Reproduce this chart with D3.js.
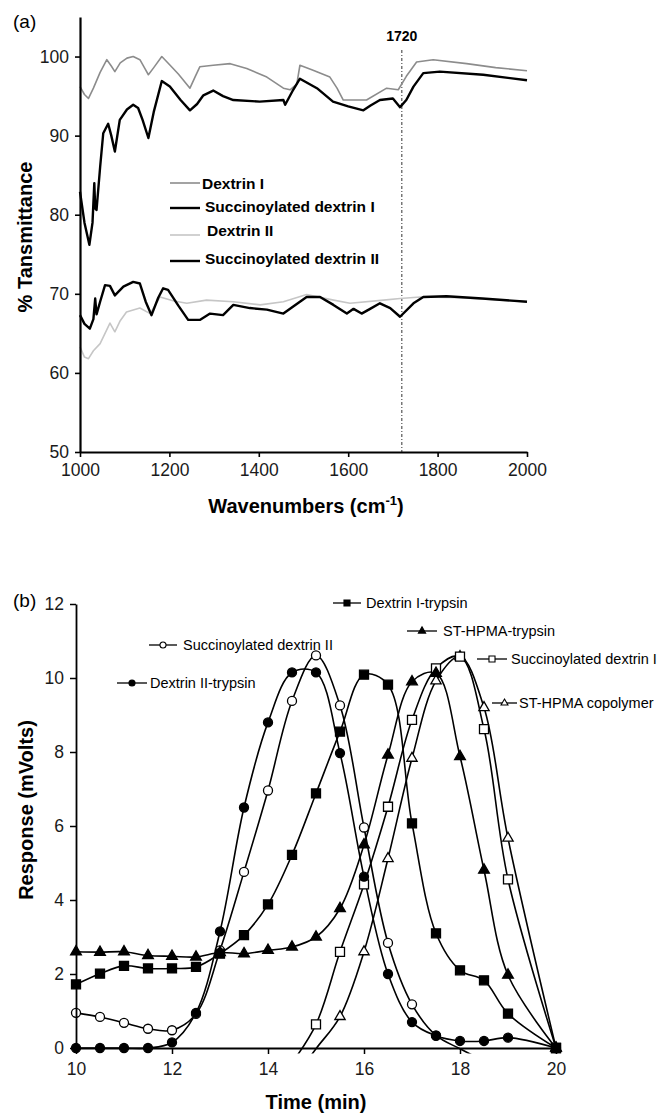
<!DOCTYPE html>
<html>
<head>
<meta charset="utf-8">
<script src="https://cdn.jsdelivr.net/npm/d3@7"></script>
<style>
  body { margin: 0; background: #fff; }
  svg { display: block; font-family: "Liberation Sans", Arial, Helvetica, sans-serif; }
</style>
</head>
<body>
<div id="chart"></div>
<script>
// ---- (a) FTIR spectra, [wavenumber, % transmittance]
const dextrinI = [[1000,96.2],[1010,95.2],[1019,94.7],[1030,96],[1045,98],[1060,99.6],[1070,98.8],[1078,98.1],[1090,99.2],[1105,99.8],[1119,100],[1134,99.6],[1145,98.5],[1153,97.7],[1165,98.6],[1183,100],[1200,99],[1220,97.8],[1246,96],[1258,97.5],[1268,98.7],[1298,98.9],[1336,99.1],[1373,98.5],[1418,97.4],[1455,96],[1470,95.8],[1485,96.5],[1492,98.9],[1520,98.3],[1559,97.4],[1575,96],[1589,94.5],[1641,94.5],[1686,96],[1712,95.8],[1730,97.5],[1753,99.3],[1790,99.6],[1865,99.1],[1930,98.6],[2000,98.2]]
const succDextrinIa = [[1000,82.9],[1010,79],[1021,76.2],[1028,79],[1032,84],[1034,80.8],[1037,80.6],[1045,86],[1052,90.3],[1063,91.5],[1070,90],[1078,88],[1089,92],[1105,93.3],[1119,93.9],[1130,93.5],[1140,92],[1153,89.7],[1165,93],[1183,96.9],[1201,96.2],[1225,94.5],[1246,93.2],[1262,94],[1276,95.1],[1298,95.7],[1320,95],[1343,94.5],[1402,94.3],[1455,94.5],[1459,93.9],[1477,95.8],[1492,97.2],[1530,96],[1566,94.3],[1600,93.7],[1634,93.2],[1650,93.8],[1671,94.5],[1700,94.7],[1716,93.6],[1730,94.5],[1746,96.2],[1768,97.9],[1805,98.1],[1902,97.7],[2000,97]]
const dextrinII = [[1000,63.3],[1010,62],[1019,61.8],[1030,62.8],[1045,63.7],[1067,66.3],[1078,65.2],[1090,66.6],[1104,67.7],[1134,68.2],[1157,67.5],[1179,69.6],[1210,69.1],[1239,68.8],[1283,69.2],[1343,69],[1403,68.6],[1455,69],[1507,69.9],[1559,69.3],[1604,68.8],[1679,69.2],[1716,69.4],[1761,69.6],[1850,69.5],[2000,69]]
const succDextrinIIa = [[1000,67.3],[1010,66.2],[1022,65.6],[1030,66.8],[1034,69.4],[1037,67.4],[1045,69],[1056,71.1],[1067,71],[1078,69.8],[1097,70.9],[1119,71.5],[1134,71.3],[1147,69],[1160,67.3],[1175,69.5],[1186,70.7],[1197,70.5],[1220,68.5],[1242,66.7],[1268,66.7],[1291,67.5],[1320,67.3],[1343,68.6],[1380,68.2],[1418,68],[1455,67.5],[1477,68.4],[1507,69.6],[1537,69.6],[1567,68.6],[1597,67.5],[1612,68.1],[1630,67.5],[1649,68.1],[1671,68.8],[1694,68.2],[1716,67.1],[1746,68.8],[1768,69.6],[1820,69.7],[1900,69.4],[2000,69]]
const spectraNames = ['Dextrin I', 'Succinoylated dextrin I', 'Dextrin II', 'Succinoylated dextrin II']
const wavenumberTicks = [1000, 1200, 1400, 1600, 1800, 2000]
const transmittanceTicks = [50, 60, 70, 80, 90, 100]
const markerLine = 1720

// ---- (b) GPC traces, response (mV) at each elution time (min)
const times = [10,10.5,11,11.5,12,12.5,13,13.5,14,14.5,15,15.5,16,16.5,17,17.5,18,18.5,19,20]
const dextrinIITrypsin = [0,0,0,0,0.15,0.95,3.15,6.5,8.8,10.15,10.15,7.97,4.63,2.0,0.7,0.33,0.19,0.19,0.28,0]
const succDextrinII = [0.95,0.84,0.68,0.52,0.48,0.92,2.64,4.76,6.96,9.38,10.61,9.26,5.96,2.84,1.18,0.34,-0.02,-0.35,null,null]
const dextrinITrypsin = [1.72,2.01,2.22,2.15,2.15,2.19,2.55,3.05,3.88,5.22,6.88,8.55,10.09,9.82,6.07,3.1,2.1,1.83,0.93,0]
const stHpmaTrypsin = [2.6,2.59,2.6,2.5,2.48,2.46,2.58,2.55,2.64,2.73,3.0,3.77,5.49,7.92,9.9,10.13,7.88,4.81,1.97,0]
const succDextrinI = [null,null,null,null,null,null,null,null,null,-0.4,0.64,2.6,4.42,6.52,8.87,10.26,10.58,8.62,4.56,0]
const stHpmaCopolymer = [null,null,null,null,null,null,null,null,null,-0.9,-0.02,0.85,2.6,5.12,7.83,9.92,10.58,9.2,5.67,0]
const gpcNames = ['Dextrin I-trypsin', 'ST-HPMA-trypsin', 'Succinoylated dextrin II', 'Succinoylated dextrin I', 'Dextrin II-trypsin', 'ST-HPMA copolymer']
const timeTicks = [10, 12, 14, 16, 18, 20]
const responseTicks = [0, 2, 4, 6, 8, 10, 12]

const svg = d3.select('#chart')
    .append('svg')
    .attr('width', 659)
    .attr('height', 1114)

// ================= panel (a) =================
const xA = d3.scaleLinear().domain([1000, 2000]).range([80, 527])
const yA = d3.scaleLinear().domain([50, 105]).range([452, 17])

const gA = svg.append('g')

gA.append('text').attr('x', 13).attr('y', 28).attr('font-size', 19).text('(a)')

// 1720 marker
gA.append('line')
    .attr('x1', xA(markerLine)).attr('x2', xA(markerLine))
    .attr('y1', 50).attr('y2', yA(50))
    .attr('stroke', '#333').attr('stroke-width', 1)
    .attr('stroke-dasharray', '3,2,1,2')
gA.append('text')
    .attr('x', xA(markerLine)).attr('y', 41)
    .attr('text-anchor', 'middle').attr('font-size', 14).attr('font-weight', 'bold')
    .text(markerLine)

const specStyle = [
    { data: dextrinI, color: '#8c8c8c', width: 1.6 },
    { data: succDextrinIa, color: '#000', width: 2.4 },
    { data: dextrinII, color: '#c6c6c6', width: 1.6 },
    { data: succDextrinIIa, color: '#000', width: 2.4 }
]

const specLine = d3.line()
    .x(d => xA(d[0]))
    .y(d => yA(d[1]))

// draw light lines first so black ones sit on top
;[2, 0, 3, 1].forEach(i => {
    gA.append('path')
        .datum(specStyle[i].data)
        .attr('d', specLine)
        .attr('fill', 'none')
        .attr('stroke', specStyle[i].color)
        .attr('stroke-width', specStyle[i].width)
        .attr('stroke-linejoin', 'round')
})

// legend (a)
const legA = [
    { ly: 183, ty: 189, tx: 202 },
    { ly: 208, ty: 212, tx: 205 },
    { ly: 235, ty: 236, tx: 207 },
    { ly: 261, ty: 264, tx: 205 }
]
legA.forEach((p, i) => {
    gA.append('line')
        .attr('x1', 170).attr('x2', 200).attr('y1', p.ly).attr('y2', p.ly)
        .attr('stroke', specStyle[i].color).attr('stroke-width', specStyle[i].width)
    gA.append('text')
        .attr('x', p.tx).attr('y', p.ty)
        .attr('font-size', 15.5).attr('font-weight', 'bold')
        .text(spectraNames[i])
})

// axes (a)
const axAx = gA.append('g')
    .attr('transform', `translate(0, ${yA(50)})`)
    .call(d3.axisBottom(xA).tickValues(wavenumberTicks).tickFormat(d3.format('d')).tickSize(5).tickSizeOuter(0).tickPadding(7))
const axAy = gA.append('g')
    .attr('transform', `translate(${xA(1000)}, 0)`)
    .call(d3.axisLeft(yA).tickValues(transmittanceTicks).tickSize(5).tickSizeOuter(0).tickPadding(6))
;[axAx, axAy].forEach(ax => {
    ax.select('.domain').attr('stroke-width', 2.2)
    ax.selectAll('.tick line').attr('stroke-width', 1.6)
    ax.selectAll('.tick text').attr('font-size', 17.5).attr('font-family', '"Liberation Sans", Arial, sans-serif').attr('fill', '#1a1a1a')
})

const xtA = gA.append('text')
    .attr('x', 306).attr('y', 513)
    .attr('text-anchor', 'middle').attr('font-size', 20).attr('font-weight', 'bold')
xtA.append('tspan').text('Wavenumbers (cm')
xtA.append('tspan').attr('font-size', 13).attr('dy', -8).text('-1')
xtA.append('tspan').attr('dy', 8).text(')')

gA.append('text')
    .attr('transform', 'translate(32, 237) rotate(-90)')
    .attr('text-anchor', 'middle').attr('font-size', 20).attr('font-weight', 'bold')
    .text('% Tansmittance')

// ================= panel (b) =================
const xB = d3.scaleLinear().domain([10, 20]).range([76, 556])
const yB = d3.scaleLinear().domain([0, 12]).range([1048, 604])

const gB = svg.append('g')

gB.append('text').attr('x', 13).attr('y', 607).attr('font-size', 19).text('(b)')

svg.append('clipPath').attr('id', 'clipB')
    .append('rect')
    .attr('x', 60).attr('y', 590).attr('width', 520).attr('height', yB(-0.15) - 590)

const series = [
    { name: gpcNames[2], values: succDextrinII, symbol: d3.symbolCircle, size: 64, filled: false },
    { name: gpcNames[5], values: stHpmaCopolymer, symbol: d3.symbolTriangle, size: 46, filled: false },
    { name: gpcNames[3], values: succDextrinI, symbol: d3.symbolSquare, size: 81, filled: false },
    { name: gpcNames[0], values: dextrinITrypsin, symbol: d3.symbolSquare, size: 81, filled: true },
    { name: gpcNames[1], values: stHpmaTrypsin, symbol: d3.symbolTriangle, size: 50, filled: true },
    { name: gpcNames[4], values: dextrinIITrypsin, symbol: d3.symbolCircle, size: 64, filled: true }
]

const gpcLine = d3.line()
    .defined(d => d[1] !== null)
    .x(d => xB(d[0]))
    .y(d => yB(d[1]))
    .curve(d3.curveCatmullRom.alpha(0.5))

const pts = s => times.map((t, i) => [t, s.values[i]]).filter(d => d[1] !== null)

const linesB = gB.append('g').attr('clip-path', 'url(#clipB)')
series.forEach(s => {
    linesB.append('path')
        .datum(pts(s))
        .attr('d', gpcLine)
        .attr('fill', 'none')
        .attr('stroke', '#000')
        .attr('stroke-width', 1.6)
})

series.forEach(s => {
    gB.append('g').selectAll('path')
        .data(pts(s).filter(d => d[1] >= 0))
        .join('path')
        .attr('transform', d => `translate(${xB(d[0])}, ${yB(d[1])})`)
        .attr('d', d3.symbol(s.symbol, s.size))
        .attr('fill', s.filled ? '#000' : '#fff')
        .attr('stroke', '#000')
        .attr('stroke-width', 1.3)
})

// legend (b)
const legB = {
    'Dextrin I-trypsin': { x1: 333, x2: 361, y: 603, tx: 366 },
    'ST-HPMA-trypsin': { x1: 407, x2: 437, y: 631, tx: 443 },
    'Succinoylated dextrin II': { x1: 149, x2: 177, y: 645, tx: 183 },
    'Succinoylated dextrin I': { x1: 477, x2: 507, y: 659, tx: 511 },
    'Dextrin II-trypsin': { x1: 117, x2: 147, y: 683, tx: 150 },
    'ST-HPMA copolymer': { x1: 492, x2: 517, y: 703, tx: 519 }
}
series.forEach(s => {
    const p = legB[s.name]
    gB.append('line')
        .attr('x1', p.x1).attr('x2', p.x2).attr('y1', p.y).attr('y2', p.y)
        .attr('stroke', '#000').attr('stroke-width', 1.3)
    gB.append('path')
        .attr('transform', `translate(${(p.x1 + p.x2) / 2}, ${p.y})`)
        .attr('d', d3.symbol(s.symbol, s.size * 0.45))
        .attr('fill', s.filled ? '#000' : '#fff')
        .attr('stroke', '#000').attr('stroke-width', 1.1)
    gB.append('text')
        .attr('x', p.tx).attr('y', p.y + 5)
        .attr('font-size', 14.5)
        .text(s.name)
})

// axes (b)
const axBx = gB.append('g')
    .attr('transform', `translate(0, ${yB(0)})`)
    .call(d3.axisBottom(xB).tickValues(timeTicks).tickSize(6).tickSizeOuter(0).tickPadding(9))
const axBy = gB.append('g')
    .attr('transform', `translate(${xB(10)}, 0)`)
    .call(d3.axisLeft(yB).tickValues(responseTicks).tickSize(6).tickSizeOuter(0).tickPadding(6))
;[axBx, axBy].forEach(ax => {
    ax.select('.domain').attr('stroke-width', 1.8)
    ax.selectAll('.tick line').attr('stroke-width', 1.5)
    ax.selectAll('.tick text').attr('font-size', 17.5).attr('font-family', '"Liberation Sans", Arial, sans-serif').attr('fill', '#1a1a1a')
})

gB.append('text')
    .attr('x', 316).attr('y', 1109)
    .attr('text-anchor', 'middle').attr('font-size', 20).attr('font-weight', 'bold')
    .text('Time (min)')

gB.append('text')
    .attr('transform', 'translate(33, 810) rotate(-90)')
    .attr('text-anchor', 'middle').attr('font-size', 20).attr('font-weight', 'bold')
    .text('Response (mVolts)')
</script>
</body>
</html>
